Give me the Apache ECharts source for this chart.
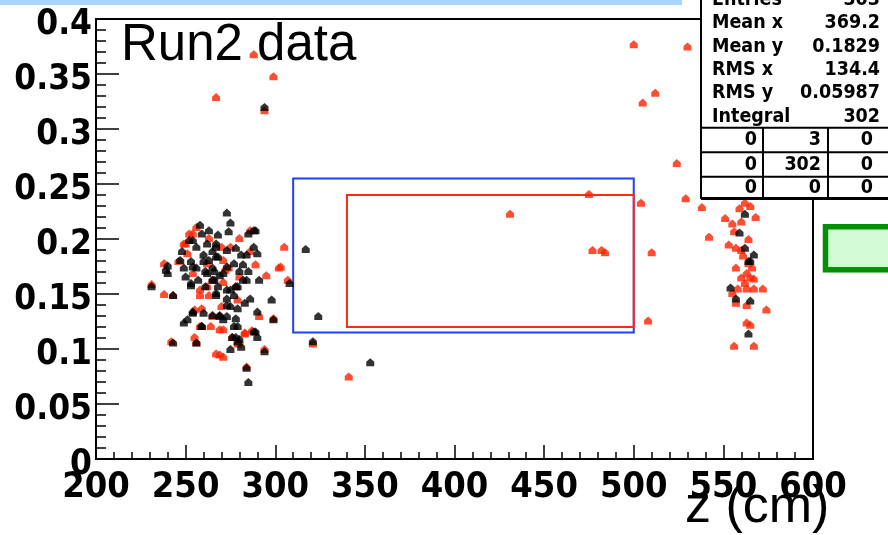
<!DOCTYPE html>
<html>
<head>
<meta charset="utf-8">
<script src="https://cdn.jsdelivr.net/npm/echarts@6/dist/echarts.min.js"></script>
<style>
  html, body { margin: 0; padding: 0; background: #fff; }
  #main { width: 888px; height: 535px; }
</style>
</head>
<body>
<div id="main"></div>
<script>
// z (cm) vs y
var redPoints = [
  [267, 0.329], [288, 0.368], [299, 0.348], [294, 0.317],
  [500, 0.377], [530, 0.375], [512, 0.333], [505, 0.324], [524, 0.269],
  [475, 0.241], [504, 0.233], [529, 0.237], [538, 0.229], [431, 0.223],
  [477, 0.190], [482, 0.190], [484, 0.188], [510, 0.188], [508, 0.126],
  [305, 0.193], [303, 0.175], [307, 0.163], [321, 0.105], [341, 0.075],
  [542, 0.202],
  [562, 0.233], [559, 0.228], [565, 0.230], [568, 0.220], [551, 0.219], [555, 0.214],
  [560, 0.216], [556, 0.207], [564, 0.200], [553, 0.195], [557, 0.192], [560, 0.190],
  [557, 0.174], [563, 0.169], [565, 0.165], [560, 0.165], [567, 0.164], [566, 0.174],
  [558, 0.155], [563, 0.155], [567, 0.155], [572, 0.155], [555, 0.151], [557, 0.142],
  [563, 0.140], [574, 0.136], [563, 0.124], [565, 0.122], [556, 0.103], [567, 0.103],
  [562, 0.160], [564, 0.178], [561, 0.185],
  [231, 0.159], [238, 0.178], [238, 0.150], [269, 0.095], [267, 0.096], [271, 0.093],
  [284, 0.084], [299, 0.128], [295, 0.167], [302, 0.174], [256, 0.211], [250, 0.196],
  [252, 0.205], [280, 0.201], [289, 0.177], [246, 0.180], [243, 0.149], [264, 0.121],
  [271, 0.118], [279, 0.105], [283, 0.115], [262, 0.157], [258, 0.149], [272, 0.172],
  [255, 0.136], [256, 0.106], [254, 0.205], [263, 0.201], [286, 0.208], [249, 0.196],
  [271, 0.181], [274, 0.174], [265, 0.163], [258, 0.154], [263, 0.149], [271, 0.161],
  [279, 0.145], [270, 0.139], [259, 0.137], [265, 0.130], [269, 0.118], [276, 0.111],
  [280, 0.106], [255, 0.111], [258, 0.121], [283, 0.114], [291, 0.130], [286, 0.189],
  [280, 0.166], [262, 0.178], [254, 0.169], [251, 0.187], [270, 0.193], [275, 0.193],
  [294, 0.100], [287, 0.117], [242, 0.107], [278, 0.157]
];

var blackPoints = [
  [294, 0.320], [317, 0.191], [308, 0.160], [324, 0.130], [321, 0.107], [353, 0.088],
  [273, 0.224], [275, 0.215], [231, 0.157], [240, 0.176], [240, 0.169], [243, 0.149],
  [243, 0.106], [249, 0.124], [254, 0.133], [256, 0.106], [275, 0.100], [280, 0.109],
  [284, 0.083], [285, 0.070], [294, 0.098], [289, 0.116], [299, 0.127], [298, 0.145],
  [288, 0.208], [285, 0.205], [258, 0.213], [263, 0.208], [268, 0.204], [274, 0.207],
  [254, 0.199], [248, 0.189], [290, 0.187], [267, 0.196], [288, 0.193], [239, 0.172],
  [259, 0.121], [269, 0.131], [271, 0.127], [277, 0.121], [276, 0.111], [281, 0.102],
  [290, 0.134], [273, 0.140], [267, 0.151], [277, 0.149], [265, 0.163], [253, 0.160],
  [254, 0.175], [260, 0.180], [262, 0.169], [267, 0.184], [273, 0.175], [280, 0.171],
  [279, 0.157], [275, 0.154], [267, 0.193], [281, 0.186], [284, 0.163], [283, 0.142],
  [260, 0.133], [251, 0.127], [252, 0.199], [256, 0.193], [260, 0.186], [265, 0.189],
  [268, 0.184], [273, 0.190], [278, 0.192], [284, 0.186], [253, 0.180], [256, 0.174],
  [261, 0.171], [265, 0.174], [269, 0.167], [266, 0.163], [257, 0.163], [253, 0.158],
  [261, 0.157], [268, 0.157], [273, 0.154], [278, 0.157], [282, 0.163], [285, 0.171],
  [267, 0.149], [273, 0.146], [275, 0.139], [279, 0.137], [265, 0.131], [269, 0.130],
  [273, 0.130], [278, 0.128], [279, 0.121], [278, 0.111], [279, 0.107], [290, 0.111],
  [288, 0.116], [254, 0.134], [259, 0.121], [266, 0.171], [271, 0.169], [263, 0.181],
  [277, 0.178], [282, 0.177], [247, 0.181], [249, 0.174], [250, 0.166], [262, 0.196],
  [259, 0.205], [289, 0.208], [291, 0.163], [286, 0.146],
  [562, 0.223], [559, 0.206], [562, 0.192], [567, 0.186], [564, 0.180], [565, 0.180],
  [554, 0.156], [557, 0.146], [565, 0.144], [564, 0.114]
];

// selection boxes: [zMin, yMax, zMax, yMin]
var blueBox = [310, 0.255, 500, 0.115];
var redBox = [340, 0.240, 500, 0.120];

var statNames = ['Entries', 'Mean x', 'Mean y', 'RMS x', 'RMS y', 'Integral'];
var statValues = ['303', '369.2', '0.1829', '134.4', '0.05987', '302'];
var tableCells = [['0', '3', '0'], ['0', '302', '0'], ['0', '0', '0']];

var chart = echarts.init(document.getElementById('main'));

var marker = 'path://M5,0 L10,4 L10,9 L0,9 L0,4 Z';
var tickFont = 'DejaVu Sans Condensed';
var statFont = { fontFamily: 'DejaVu Sans Condensed', fontWeight: 'bold', fontSize: 19.5, fill: '#000' };

var graphics = [
  // light blue strip along the top
  { type: 'rect', z: 100, shape: { x: 0, y: 0, width: 682, height: 5 }, style: { fill: '#a8d5fb' } },
  { type: 'text', z: 100, style: { x: 121, y: 46, text: 'Run2 data', fontFamily: 'Liberation Sans', fontSize: 51, fill: '#000', verticalAlign: 'middle' } },
  { type: 'text', z: 100, style: { x: 685, y: 508, text: 'z (cm)', fontFamily: 'Liberation Sans', fontSize: 52, fill: '#000', verticalAlign: 'middle' } },
  // stats box
  { type: 'rect', z: 100, shape: { x: 701, y: -5, width: 200, height: 203 }, style: { fill: '#fff', stroke: '#000', lineWidth: 2 } },
  { type: 'line', z: 101, shape: { x1: 701, y1: 198.5, x2: 888, y2: 198.5 }, style: { stroke: '#000', lineWidth: 3 } },
  // green box at right edge
  { type: 'rect', z: 100, shape: { x: 825.5, y: 226.7, width: 100, height: 43 }, style: { fill: '#d4fcd4', stroke: '#009000', lineWidth: 5.5 } }
];

var rowY = [0, 23.3, 46.6, 70, 93.4, 116.8];
for (var i = 0; i < statNames.length; i++) {
  graphics.push({ type: 'text', z: 101, style: Object.assign({ x: 712, y: rowY[i], text: statNames[i], verticalAlign: 'middle' }, statFont) });
  graphics.push({ type: 'text', z: 101, style: Object.assign({ x: 880, y: rowY[i], text: statValues[i], align: 'right', verticalAlign: 'middle' }, statFont) });
}

var lineYs = [127.7, 152.3, 176.7];
for (var k = 0; k < lineYs.length; k++) {
  graphics.push({ type: 'line', z: 101, shape: { x1: 701, y1: lineYs[k], x2: 888, y2: lineYs[k] }, style: { stroke: '#000', lineWidth: 2 } });
}
[763, 828].forEach(function (vx) {
  graphics.push({ type: 'line', z: 101, shape: { x1: vx, y1: 127.7, x2: vx, y2: 198 }, style: { stroke: '#000', lineWidth: 2 } });
});
var cellRight = [757, 821, 873];
var cellY = [140, 164.5, 188];
for (var r = 0; r < tableCells.length; r++) {
  for (var c = 0; c < 3; c++) {
    graphics.push({ type: 'text', z: 101, style: Object.assign({ x: cellRight[c], y: cellY[r], text: tableCells[r][c], align: 'right', verticalAlign: 'middle' }, statFont) });
  }
}

chart.setOption({
  animation: false,
  backgroundColor: '#fff',
  grid: {
    left: 96, right: 75, top: 19, bottom: 76,
    show: true, borderColor: '#000', borderWidth: 2, backgroundColor: 'transparent'
  },
  xAxis: {
    type: 'value', min: 200, max: 600, interval: 50,
    axisLine: { show: true, lineStyle: { color: '#000', width: 2 } },
    axisTick: { show: true, inside: true, length: 14, lineStyle: { color: '#000', width: 1.5 } },
    minorTick: { show: true, splitNumber: 5, length: 7, lineStyle: { color: '#000', width: 1.5 } },
    splitLine: { show: false },
    axisLabel: { margin: 11, color: '#000', fontFamily: tickFont, fontWeight: 'bold', fontSize: 36 }
  },
  yAxis: {
    type: 'value', min: 0, max: 0.4, interval: 0.05,
    axisLine: { show: true, lineStyle: { color: '#000', width: 2 } },
    axisTick: { show: true, inside: true, length: 23, lineStyle: { color: '#000', width: 1.5 } },
    minorTick: { show: true, splitNumber: 5, length: 10, lineStyle: { color: '#000', width: 1.5 } },
    splitLine: { show: false },
    axisLabel: {
      margin: 4, color: '#000', fontFamily: tickFont, fontWeight: 'bold', fontSize: 35,
      verticalAlign: 'top', lineHeight: 12,
      formatter: function (v) { return String(+v.toFixed(2)); }
    }
  },
  series: [
    {
      type: 'scatter', name: 'red', data: redPoints,
      symbol: marker, symbolSize: [8, 8],
      itemStyle: { color: '#ff2200' },
      markArea: {
        silent: true,
        data: [
          [{ coord: [blueBox[0], blueBox[1]], itemStyle: { color: 'transparent', borderColor: '#1f3fff', borderWidth: 2 } },
           { coord: [blueBox[2], blueBox[3]] }],
          [{ coord: [redBox[0], redBox[1]], itemStyle: { color: 'transparent', borderColor: '#ff2a10', borderWidth: 2 } },
           { coord: [redBox[2], redBox[3]] }]
        ]
      }
    },
    {
      type: 'scatter', name: 'black', data: blackPoints,
      symbol: marker, symbolSize: [8, 8],
      itemStyle: { color: '#000' }
    }
  ],
  graphic: graphics
});
</script>
</body>
</html>
